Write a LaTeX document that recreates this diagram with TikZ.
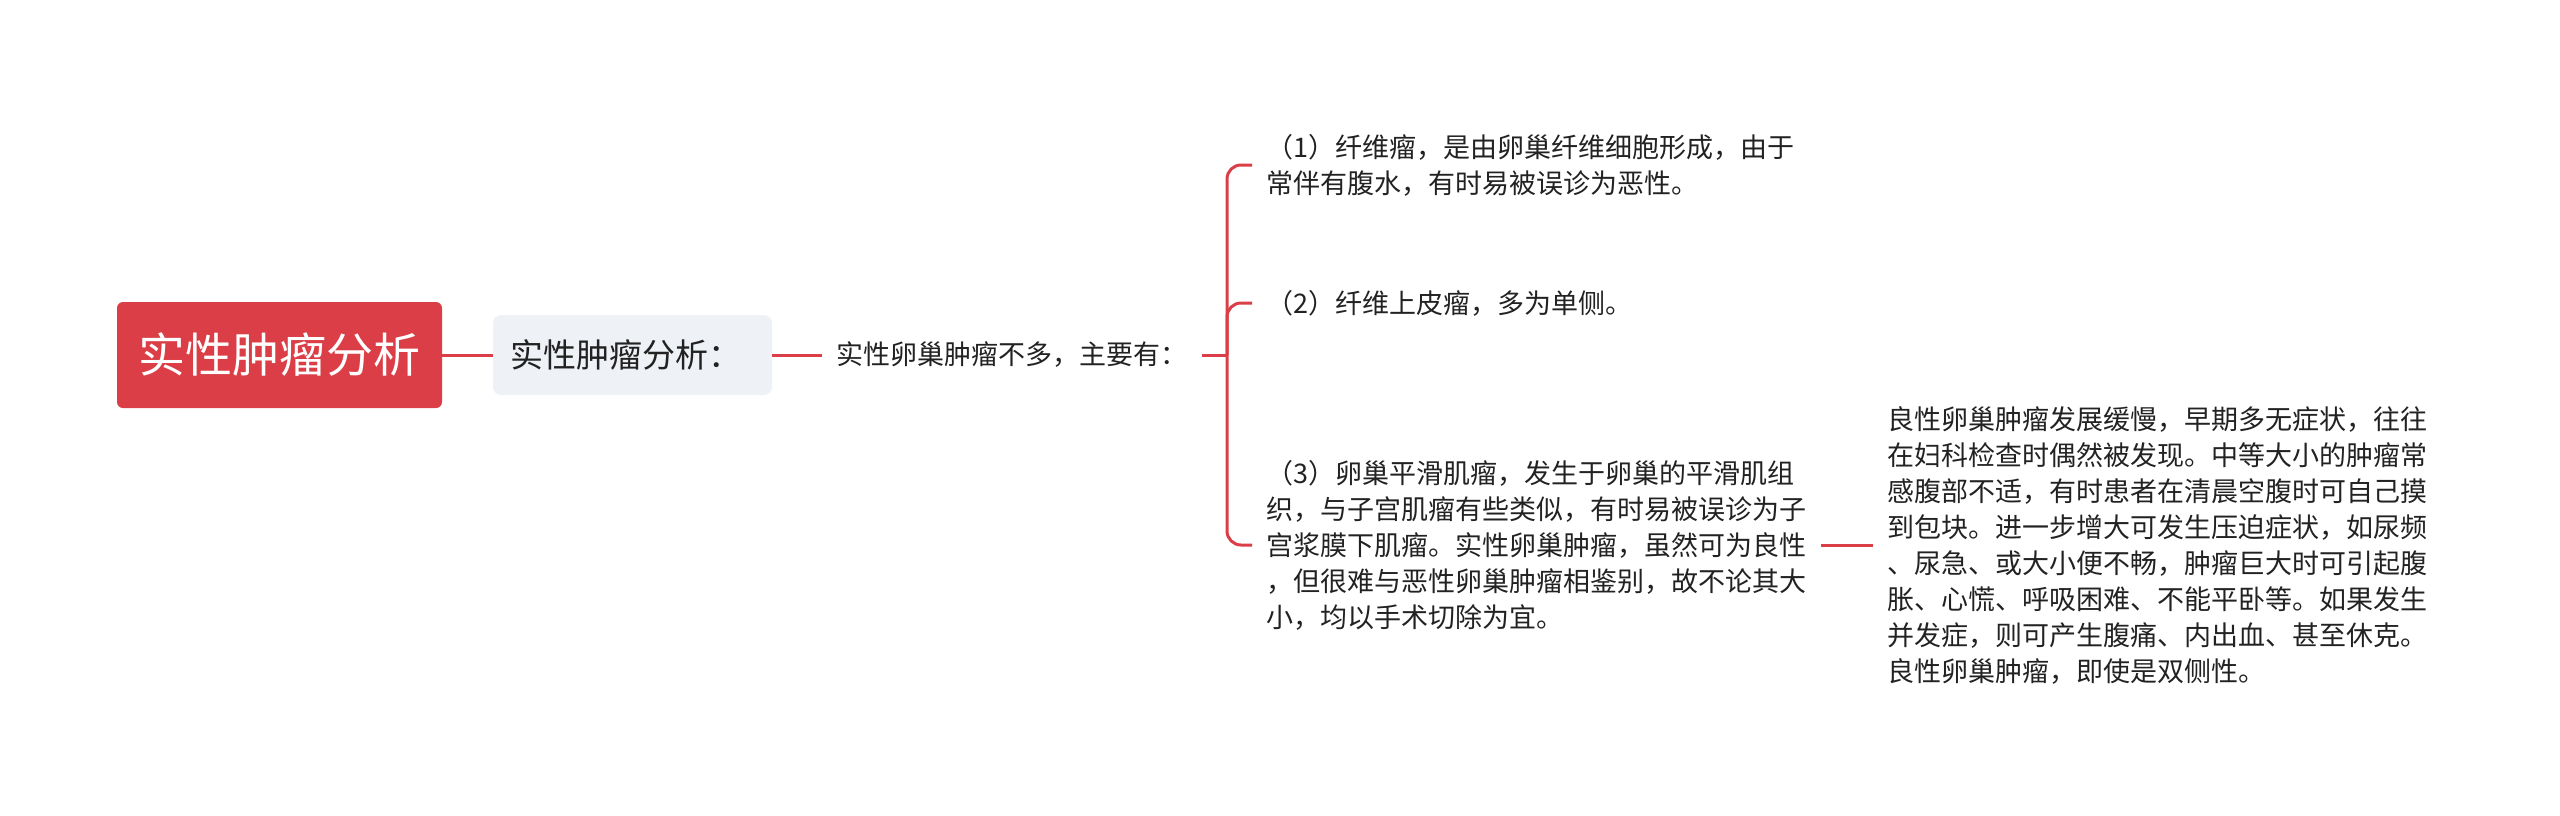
\documentclass[tikz,border=0pt]{standalone}
\usepackage{fontspec}
\setmainfont{Noto Sans CJK SC}
\usepackage{tikz}
\definecolor{mapred}{RGB}{219,62,71}
\definecolor{subgray}{RGB}{238,241,245}
\definecolor{inkgray}{RGB}{34,34,34}

\begin{document}
\begin{tikzpicture}[x=0.5pt,y=-0.5pt]
\tikzstyle{every node}+=[inner sep=0pt, text=inkgray]
\tikzstyle{leaf}=[align=left, anchor=west, inner xsep=7pt, font=\fontsize{13.5pt}{18pt}\selectfont]
\tikzstyle{branch}=[draw=mapred, line width=1.5pt]
\useasboundingbox (0,0) rectangle (2560,815);
\node [fill=mapred, rounded corners=3pt, minimum width=162.5pt, minimum height=53pt, text=white, font=\fontsize{23.5pt}{28pt}\selectfont] (root) at (279.5,355) {实性肿瘤分析};
\node [fill=subgray, rounded corners=4pt, inner xsep=8.5pt, text width=122.5pt, align=left, minimum height=40pt, font=\fontsize{16.5pt}{20pt}\selectfont] (sub) at (632.5,355) {实性肿瘤分析：};
\node [leaf] (lead) at (822,355) {实性卵巢肿瘤不多，主要有：};
\coordinate (spine) at (1227,355);
\node [leaf] (c1) at (1252,165) {（1）纤维瘤，是由卵巢纤维细胞形成，由于\\常伴有腹水，有时易被误诊为恶性。};
\node [leaf] (c2) at (1252,303) {（2）纤维上皮瘤，多为单侧。};
\node [leaf] (c3) at (1252,545) {（3）卵巢平滑肌瘤，发生于卵巢的平滑肌组\\织，与子宫肌瘤有些类似，有时易被误诊为子\\宫浆膜下肌瘤。实性卵巢肿瘤，虽然可为良性\\，但很难与恶性卵巢肿瘤相鉴别，故不论其大\\小，均以手术切除为宜。};
\node [leaf] (gc) at (1873,545) {良性卵巢肿瘤发展缓慢，早期多无症状，往往\\在妇科检查时偶然被发现。中等大小的肿瘤常\\感腹部不适，有时患者在清晨空腹时可自己摸\\到包块。进一步增大可发生压迫症状，如尿频\\、尿急、或大小便不畅，肿瘤巨大时可引起腹\\胀、心慌、呼吸困难、不能平卧等。如果发生\\并发症，则可产生腹痛、内出血、甚至休克。\\良性卵巢肿瘤，即使是双侧性。};
\draw [branch] (root) -- (sub);
\draw [branch] (sub) -- (lead);
\draw [branch] (lead) -- (spine);
\draw [branch, rounded corners=7pt] (c1.west) -| (spine) |- (c3.west);
\draw [branch, rounded corners=7pt] (c2.west) -| (spine);
\draw [branch] (c3) -- (gc);
\end{tikzpicture}
\end{document}
